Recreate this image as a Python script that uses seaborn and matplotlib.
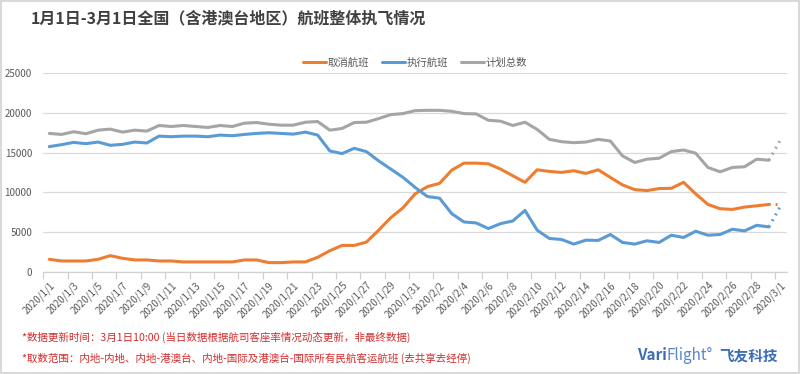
import pandas as pd
import numpy as np
import matplotlib
matplotlib.use('Agg')
import matplotlib.pyplot as plt
import seaborn as sns

sns.set_theme(style='white')
plt.rcParams['font.family'] = ['Noto Sans CJK SC', 'DejaVu Sans']

# daily flights, 2020/1/1 - 2020/2/29
cancelled = [1540, 1330, 1330, 1330, 1540, 2000, 1670, 1460, 1460, 1330,
             1330, 1210, 1210, 1210, 1210, 1210, 1460, 1460, 1125, 1125,
             1210, 1210, 1790, 2625, 3290, 3290, 3710, 5210, 6790, 8040,
             9800, 10710, 11125, 12790, 13670, 13670, 13580, 12920, 12080, 11250,
             12830, 12625, 12500, 12710, 12375, 12830, 11875, 10920, 10330, 10210,
             10460, 10500, 11250, 9790, 8460, 7920, 7830, 8125, 8290, 8460]
executed = [15750, 16000, 16290, 16125, 16330, 15920, 16040, 16330, 16210, 17080,
            17000, 17080, 17080, 17000, 17210, 17125, 17290, 17420, 17500, 17420,
            17330, 17580, 17210, 15210, 14875, 15540, 15125, 13960, 12920, 11875,
            10600, 9460, 9250, 7290, 6250, 6125, 5420, 6040, 6375, 7710,
            5210, 4170, 4040, 3460, 3960, 3920, 4670, 3670, 3460, 3875,
            3670, 4580, 4290, 5080, 4580, 4670, 5330, 5125, 5830, 5625]
planned = [17420, 17290, 17630, 17375, 17830, 17960, 17580, 17830, 17710, 18420,
           18290, 18420, 18290, 18170, 18420, 18290, 18710, 18790, 18580, 18460,
           18460, 18830, 18920, 17830, 18040, 18790, 18830, 19290, 19790, 19920,
           20290, 20330, 20330, 20210, 19920, 19875, 19080, 18960, 18420, 18830,
           17920, 16670, 16375, 16250, 16330, 16670, 16460, 14580, 13750, 14170,
           14290, 15125, 15330, 14920, 13125, 12580, 13125, 13210, 14170, 14040]
# 3/1 partial-day estimates (dotted)
cancelled_last = [8460, 8450]
executed_last = [5625, 8400]
planned_last = [14040, 16750]

dates = pd.date_range('2020-01-01', '2020-03-01')
date_labels = [f'{d.year}/{d.month}/{d.day}' for d in dates]

series = ['取消航班', '执行航班', '计划总数']
colors = ['#ED7D31', '#5B9BD5', '#A5A5A5']

df = pd.DataFrame({'day': list(range(60)) * 3,
                   'flights': cancelled + executed + planned,
                   'type': np.repeat(series, 60)})

fig = plt.figure(figsize=(8, 3.74), dpi=100)
fig.patch.set_edgecolor('#d9d9d9')
fig.patch.set_linewidth(1.5)
ax = fig.add_axes([0.054, 0.274, 0.93, 0.530])

sns.lineplot(data=df, x='day', y='flights', hue='type', palette=colors,
             hue_order=series, linewidth=2.2, ax=ax)
for vals, c in zip([cancelled_last, executed_last, planned_last], colors):
    sns.lineplot(x=[59, 60], y=vals, color=c, linewidth=2.2, linestyle=(0, (0.6, 1.6)),
                 ax=ax, legend=False)

ax.set_xlim(-0.5, 60.5)
ax.set_ylim(0, 25000)
ax.set_yticks(range(0, 25001, 5000))
ax.yaxis.grid(True, color='#d9d9d9', linewidth=0.9)
ax.set_xticks(range(0, 61, 2))
ax.set_xticklabels(date_labels[::2], rotation=45, ha='right', rotation_mode='anchor',
                   fontsize=7, color='#595959')
ax.set_xticks(np.arange(-0.5, 60, 2), minor=True)
ax.tick_params(axis='x', which='major', length=0, pad=6)
ax.tick_params(axis='x', which='minor', length=5, color='#d0d0d0', width=0.9, bottom=True)
ax.tick_params(axis='y', length=0, labelsize=7, labelcolor='#595959', pad=8)
ax.set_xlabel('')
ax.set_ylabel('')
for s in ['left', 'right', 'top']:
    ax.spines[s].set_visible(False)
ax.spines['bottom'].set_color('#d0d0d0')
ax.spines['bottom'].set_linewidth(0.9)

ax.legend(loc='lower center', bbox_to_anchor=(0.5, 1.0), ncol=3, frameon=False,
          fontsize=7.5, labelcolor='#595959', handlelength=2.2, handletextpad=0.2,
          columnspacing=1.2, borderaxespad=0.1)

fig.text(0.038, 0.952, '1月1日-3月1日全国（含港澳台地区）航班整体执飞情况',
         fontsize=11.5, fontweight='bold', color='#404040', va='center')

red = '#D42B2B'
fig.text(0.027, 0.097, '*数据更新时间：3月1日10:00 (当日数据根据航司客座率情况动态更新，非最终数据)',
         fontsize=7.6, color=red, va='center')
fig.text(0.027, 0.043, '*取数范围：内地-内地、内地-港澳台、内地-国际及港澳台-国际所有民航客运航班 (去共享去经停)',
         fontsize=7.6, color=red, va='center')

# logo: place pieces one after another
blue = '#3D6DB5'
renderer = fig.canvas.get_renderer()
x = 0.796
for txt, weight, col, size, gap in [('Vari', 'bold', blue, 11, 0.0),
                                     ('Flight°', 'normal', '#5B86C8', 11, 0.008),
                                     ('飞友科技', 'bold', blue, 10.5, 0.0)]:
    t = fig.text(x, 0.05, txt, fontsize=size, fontweight=weight, color=col, va='center')
    bb = t.get_window_extent(renderer)
    x += bb.width / fig.bbox.width + gap

fig.savefig('out.png', dpi=100)
